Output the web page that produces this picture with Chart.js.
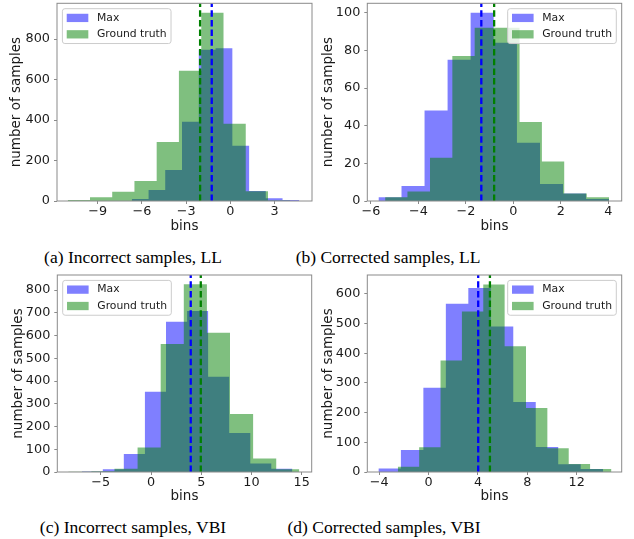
<!DOCTYPE html>
<html>
<head>
<meta charset="utf-8">
<script src="https://cdn.jsdelivr.net/npm/chart.js@4.4.0/dist/chart.umd.min.js"></script>
<style>
  body { margin: 0; background: #fff; width: 634px; height: 539px; position: relative; overflow: hidden; }
  canvas { position: absolute; }
  .caption { position: absolute; width: 300px; text-align: center; font-family: "Liberation Serif", "Times New Roman", serif; font-size: 17.5px; line-height: 20px; color: #000; white-space: nowrap; }
</style>
</head>
<body>
<canvas id="chartA" width="317" height="235" style="left:0;top:0"></canvas>
<canvas id="chartB" width="317" height="235" style="left:310px;top:0"></canvas>
<canvas id="chartC" width="317" height="235" style="left:0;top:270px"></canvas>
<canvas id="chartD" width="317" height="235" style="left:310px;top:270px"></canvas>
<div class="caption" style="left:-17px;top:247px">(a) Incorrect samples, LL</div>
<div class="caption" style="left:238px;top:247px">(b) Corrected samples, LL</div>
<div class="caption" style="left:-17px;top:517px">(c) Incorrect samples, VBI</div>
<div class="caption" style="left:234px;top:517px">(d) Corrected samples, VBI</div>
<script>
const FONT = '"DejaVu Sans", sans-serif';
const TEXT = '#1a1a1a';
const SPINE = '#8a8a8a';
const BLUE_FILL = 'rgba(0, 0, 255, 0.5)';
const GREEN_FILL = 'rgba(0, 128, 0, 0.5)';

// (a) Incorrect samples, LL
const maxEdgesA = [-6.69, -5.55, -4.42, -3.28, -2.14, -1.00, 0.14, 1.28, 2.41, 3.55, 4.69];
const maxCountsA = [10, 54, 153, 392, 747, 755, 273, 49, 13, 5];
const gtEdgesA = [-11.04, -9.53, -8.02, -6.51, -5.00, -3.49, -1.97, -0.46, 1.05, 2.56, 4.07];
const gtCountsA = [5, 18, 46, 99, 291, 643, 930, 382, 48, 3];
const meansA = [-1.26, -2.05]; // Max, Ground truth
const xLimA = [-11.77, 5.55];
const xTicksA = [-9, -6, -3, 0, 3];
const yTicksA = [0, 200, 400, 600, 800];
const yMaxA = 976.5;

// (b) Corrected samples, LL
const maxEdgesB = [-5.68, -4.71, -3.74, -2.77, -1.80, -0.83, 0.15, 1.12, 2.09, 3.06, 4.03];
const maxCountsB = [2, 8, 48, 75, 100, 84, 31, 9, 4, 1];
const gtEdgesB = [-5.40, -4.46, -3.51, -2.57, -1.63, -0.68, 0.26, 1.20, 2.14, 3.09, 4.03];
const gtCountsB = [2, 5, 23, 77, 92, 92, 42, 21, 4, 2];
const meansB = [-1.35, -0.81];
const xLimB = [-6.15, 4.56];
const xTicksB = [-6, -4, -2, 0, 2, 4];
const yTicksB = [0, 20, 40, 60, 80, 100];
const yMaxB = 105;

// (c) Incorrect samples, VBI
const maxEdgesC = [-6.90, -4.80, -2.71, -0.61, 1.49, 3.59, 5.68, 7.78, 9.88, 11.97, 14.07];
const maxCountsC = [2, 12, 79, 353, 661, 708, 419, 171, 37, 14];
const gtEdgesC = [-8.24, -5.94, -3.64, -1.34, 0.96, 3.26, 5.56, 7.86, 10.16, 12.46, 14.76];
const gtCountsC = [1, 3, 14, 108, 563, 825, 612, 255, 59, 12];
const meansC = [3.95, 4.95];
const xLimC = [-9.33, 15.99];
const xTicksC = [-5, 0, 5, 10, 15];
const yTicksC = [0, 100, 200, 300, 400, 500, 600, 700, 800];
const yMaxC = 866;

// (d) Corrected samples, VBI
const maxEdgesD = [-4.06, -2.24, -0.42, 1.40, 3.22, 5.04, 6.86, 8.68, 10.50, 12.32, 14.14];
const maxCountsD = [12, 74, 284, 567, 620, 490, 236, 84, 26, 10];
const gtEdgesD = [-2.49, -0.76, 0.97, 2.70, 4.43, 6.16, 7.89, 9.62, 11.35, 13.08, 14.81];
const gtCountsD = [18, 83, 376, 541, 632, 424, 216, 80, 27, 10];
const meansD = [4.02, 4.97];
const xLimD = [-4.96, 15.64];
const xTicksD = [-4, 0, 4, 8, 12];
const yTicksD = [0, 100, 200, 300, 400, 500, 600];
const yMaxD = 663.6;

function fmt(v) {
  return v < 0 ? '\u2212' + (-v) : String(v);
}

// corners of the histogram outline, drawn as a stepped line
function histPoints(edges, counts) {
  const pts = [{x: edges[0], y: 0}];
  counts.forEach((c, i) => pts.push({x: edges[i], y: c}));
  pts.push({x: edges[edges.length - 1], y: 0});
  return pts;
}

function vline(x, yMax) {
  return [{x: x, y: 0}, {x: x, y: yMax}];
}

// box around the plot area, like matplotlib spines
const framePlugin = {
  id: 'frame',
  afterDatasetsDraw(chart) {
    const {ctx, chartArea: a} = chart;
    ctx.save();
    ctx.strokeStyle = SPINE;
    ctx.lineWidth = 1;
    ctx.strokeRect(a.left, a.top, a.right - a.left, a.bottom - a.top);
    ctx.restore();
  }
};

// legend drawn inside the axes
const mplLegend = {
  id: 'mplLegend',
  afterDraw(chart, args, opts) {
    const {ctx, chartArea} = chart;
    const fs = 10.8;
    const items = chart.data.datasets.filter(d => d.legend);
    ctx.save();
    ctx.font = fs + 'px ' + FONT;
    const textW = Math.max(...items.map(d => ctx.measureText(d.label).width));
    const pad = 0.4 * fs, handleW = 2 * fs, handleH = 8.3, gap = 0.8 * fs;
    const rowH = 9.8, pitch = 16.4;
    const w = pad * 2 + handleW + gap + textW;
    const h = pad * 2 + rowH + pitch * (items.length - 1);
    const x = opts.loc === 'left' ? chartArea.left + 0.5 * fs : chartArea.right - 0.5 * fs - w;
    const y = chartArea.top + 0.5 * fs;
    const r = 2.5;
    ctx.beginPath();
    ctx.moveTo(x + r, y);
    ctx.arcTo(x + w, y, x + w, y + h, r);
    ctx.arcTo(x + w, y + h, x, y + h, r);
    ctx.arcTo(x, y + h, x, y, r);
    ctx.arcTo(x, y, x + w, y, r);
    ctx.closePath();
    ctx.fillStyle = 'rgba(255, 255, 255, 0.8)';
    ctx.fill();
    ctx.strokeStyle = '#cccccc';
    ctx.lineWidth = 1;
    ctx.stroke();
    items.forEach((d, i) => {
      const cy = y + pad + rowH / 2 + i * pitch;
      ctx.fillStyle = d.backgroundColor;
      ctx.fillRect(x + pad, cy - handleH / 2, handleW, handleH);
      ctx.fillStyle = TEXT;
      ctx.textBaseline = 'middle';
      ctx.textAlign = 'left';
      ctx.fillText(d.label, x + pad + handleW + gap, cy);
    });
    ctx.restore();
  }
};

function makeChart(id, p) {
  const ctx = document.getElementById(id).getContext('2d');
  return new Chart(ctx, {
    type: 'line',
    data: {
      datasets: [
        {
          label: 'Max', legend: true,
          data: histPoints(p.maxEdges, p.maxCounts),
          stepped: 'before', fill: 'origin',
          backgroundColor: BLUE_FILL, borderColor: 'rgba(0,0,0,0)', borderWidth: 0,
          pointRadius: 0, order: 3
        },
        {
          label: 'Ground truth', legend: true,
          data: histPoints(p.gtEdges, p.gtCounts),
          stepped: 'before', fill: 'origin',
          backgroundColor: GREEN_FILL, borderColor: 'rgba(0,0,0,0)', borderWidth: 0,
          pointRadius: 0, order: 2
        },
        {
          label: 'Max mean',
          data: vline(p.means[0], p.yMax),
          borderColor: '#0000ff', borderWidth: 2.3, borderDash: [6.5, 3.2],
          pointRadius: 0, fill: false, order: 1
        },
        {
          label: 'Ground truth mean',
          data: vline(p.means[1], p.yMax),
          borderColor: '#008000', borderWidth: 2.3, borderDash: [6.5, 3.2],
          pointRadius: 0, fill: false, order: 1
        }
      ]
    },
    options: {
      responsive: false,
      animation: false,
      events: [],
      layout: { padding: { left: 0, right: p.padRight, top: p.padTop, bottom: 0 } },
      plugins: {
        legend: { display: false },
        tooltip: { enabled: false },
        mplLegend: { loc: p.legendLoc }
      },
      scales: {
        x: {
          type: 'linear',
          min: p.xLim[0],
          max: p.xLim[1],
          afterBuildTicks: s => { s.ticks = p.xTicks.map(v => ({value: v})); },
          afterFit: s => { s.height = p.xAxisHeight; s.paddingLeft = 0; s.paddingRight = 0; },
          ticks: {
            autoSkip: false, maxRotation: 0, padding: 1, color: TEXT,
            font: { family: FONT, size: 12.8, lineHeight: 1 },
            callback: v => fmt(v)
          },
          grid: { display: true, drawOnChartArea: false, drawTicks: true, tickLength: 3, tickColor: SPINE },
          border: { display: false },
          title: {
            display: true, text: 'bins', color: TEXT,
            font: { family: FONT, size: 13.5 },
            padding: { top: 0, bottom: 0.5 }
          }
        },
        y: {
          type: 'linear',
          min: 0,
          max: p.yMax,
          afterBuildTicks: s => { s.ticks = p.yTicks.map(v => ({value: v})); },
          afterFit: s => { s.width = p.yAxisWidth; s.paddingTop = 0; s.paddingBottom = 0; },
          ticks: {
            autoSkip: false, padding: 4, color: TEXT,
            font: { family: FONT, size: 12.8 },
            callback: v => fmt(v)
          },
          grid: { display: true, drawOnChartArea: false, drawTicks: true, tickLength: 3, tickColor: SPINE },
          border: { display: false },
          title: {
            display: true, text: 'number of samples', color: TEXT,
            font: { family: FONT, size: 13.5 },
            padding: { top: p.yTitlePad, bottom: 0 }
          }
        }
      }
    },
    plugins: [framePlugin, mplLegend]
  });
}

makeChart('chartA', {
  maxEdges: maxEdgesA, maxCounts: maxCountsA, gtEdges: gtEdgesA, gtCounts: gtCountsA,
  means: meansA, xLim: xLimA, xTicks: xTicksA, yTicks: yTicksA, yMax: yMaxA,
  legendLoc: 'left', padTop: 3.3, padRight: 5, yAxisWidth: 57, xAxisHeight: 34, yTitlePad: 8.6
});
makeChart('chartB', {
  maxEdges: maxEdgesB, maxCounts: maxCountsB, gtEdges: gtEdgesB, gtCounts: gtCountsB,
  means: meansB, xLim: xLimB, xTicks: xTicksB, yTicks: yTicksB, yMax: yMaxB,
  legendLoc: 'right', padTop: 3.3, padRight: 5.3, yAxisWidth: 57.3, xAxisHeight: 34, yTitlePad: 10
});
makeChart('chartC', {
  maxEdges: maxEdgesC, maxCounts: maxCountsC, gtEdges: gtEdgesC, gtCounts: gtCountsC,
  means: meansC, xLim: xLimC, xTicks: xTicksC, yTicks: yTicksC, yMax: yMaxC,
  legendLoc: 'left', padTop: 5, padRight: 5.3, yAxisWidth: 57.3, xAxisHeight: 33, yTitlePad: 10
});
makeChart('chartD', {
  maxEdges: maxEdgesD, maxCounts: maxCountsD, gtEdges: gtEdgesD, gtCounts: gtCountsD,
  means: meansD, xLim: xLimD, xTicks: xTicksD, yTicks: yTicksD, yMax: yMaxD,
  legendLoc: 'right', padTop: 5, padRight: 5.3, yAxisWidth: 57.3, xAxisHeight: 33, yTitlePad: 10
});
</script>
</body>
</html>
